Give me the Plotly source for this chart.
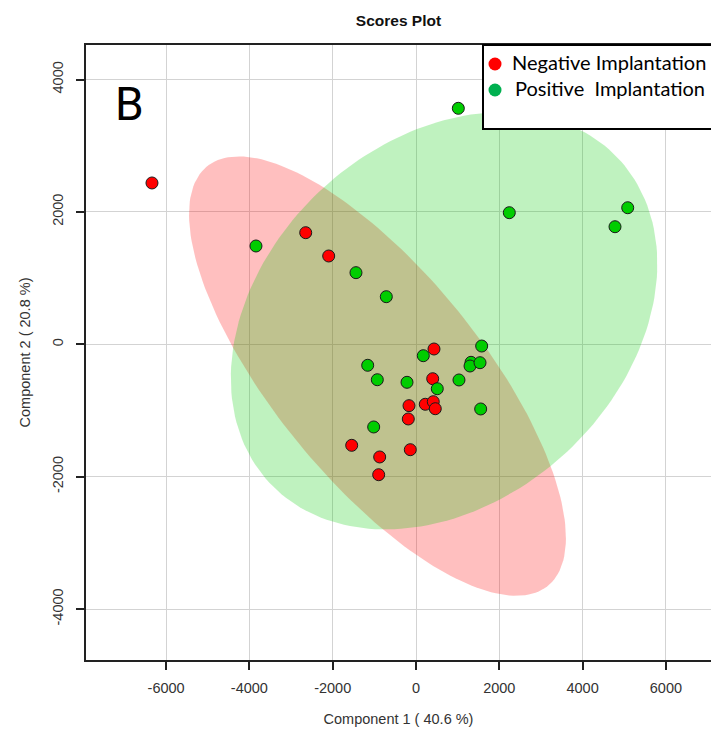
import numpy as np
import plotly.graph_objects as go

# ---- data ----
neg_x = [-6339, -2648, -2096, 432, 401, -168, 223, 415, 463, -185, -1544, -137, -872, -896]
neg_y = [2437, 1686, 1334, -71, -520, -927, -906, -867, -973, -1128, -1526, -1592, -1702, -1970]
pos_x = [175, 1577, -1160, -929, -216, 511, 1032, 1321, 1297, 1537, 1553, -1016,
         -3842, -1441, -713, 1016, 2240, 5083, 4778]
pos_y = [-172, -26, -317, -535, -574, -671, -539, -272, -328, -278, -977, -1249,
         1485, 1082, 719, 3565, 1988, 2063, 1776]
x_ticks = [-6000, -4000, -2000, 0, 2000, 4000, 6000]
y_ticks = [-4000, -2000, 0, 2000, 4000]
group_names = ["Negative Implantation", "Positive  Implantation"]


def conf_ellipse(x, y, level_t=np.sqrt(5.991464547), n=200):
    pts = np.vstack([x, y]).astype(float)
    mu = pts.mean(axis=1)
    cov = np.cov(pts)
    vals, vecs = np.linalg.eigh(cov)
    th = np.linspace(0, 2 * np.pi, n)
    circ = np.vstack([np.cos(th), np.sin(th)])
    e = vecs @ (np.sqrt(vals)[:, None] * circ) * level_t + mu[:, None]
    return e[0], e[1]


L, R, T, B = 86, 0, 45, 71
W, H = 711, 731
pw, ph = W - L - R, H - T - B
x_per = 41.65 / 1000.0
y_per = 66.2 / 1000.0
x_range = [(L - 416) / x_per, (W - R - 416) / x_per]
y_range = [(344.3 - (H - B)) / y_per, (344.3 - T) / y_per]

fig = go.Figure()

ex, ey = conf_ellipse(neg_x, neg_y)
fig.add_trace(go.Scatter(x=ex, y=ey, mode="lines", fill="toself",
                         fillcolor="rgba(255,0,0,0.25)", line=dict(width=0),
                         hoverinfo="skip", showlegend=False))
ex, ey = conf_ellipse(pos_x, pos_y)
fig.add_trace(go.Scatter(x=ex, y=ey, mode="lines", fill="toself",
                         fillcolor="rgba(0,205,0,0.25)", line=dict(width=0),
                         hoverinfo="skip", showlegend=False))

fig.add_trace(go.Scatter(x=neg_x, y=neg_y, mode="markers", showlegend=False,
                         marker=dict(size=12, color="#FF0000",
                                     line=dict(color="#1a1a1a", width=1))))
fig.add_trace(go.Scatter(x=pos_x, y=pos_y, mode="markers", showlegend=False,
                         marker=dict(size=12, color="#00CD00",
                                     line=dict(color="#1a1a1a", width=1))))

axis_font = dict(family="Liberation Sans, Arial, sans-serif", size=14.5, color="#333333")

fig.update_xaxes(range=x_range, tickvals=x_ticks, ticktext=[str(v) for v in x_ticks],
                 showgrid=True, gridcolor="#D3D3D3", gridwidth=1, zeroline=False,
                 showline=True, linecolor="#222222", linewidth=1.5, mirror=True,
                 ticks="outside", ticklen=8, tickcolor="#222222", tickwidth=1.5,
                 tickfont=axis_font, ticklabelstandoff=6,
                 title=dict(text="Component 1 ( 40.6 %)", font=axis_font, standoff=19))
fig.update_yaxes(range=y_range, tickvals=y_ticks, ticktext=[str(v) for v in y_ticks],
                 showgrid=True, gridcolor="#D3D3D3", gridwidth=1, zeroline=False,
                 showline=True, linecolor="#222222", linewidth=1.5, mirror=False,
                 ticks="outside", ticklen=8, tickcolor="#222222", tickwidth=1.5,
                 tickangle=-90, tickfont=axis_font, ticklabelstandoff=7,
                 title=dict(text="Component 2 ( 20.8 %)", font=axis_font, standoff=16))


def px_x(p):
    return (p - L) / pw


def px_y(p):
    return (H - B - p) / ph


shapes = [
    dict(type="rect", xref="paper", yref="paper", x0=px_x(483), x1=px_x(720),
         y0=px_y(129), y1=px_y(45), line=dict(color="black", width=2),
         fillcolor="white", layer="above"),
    dict(type="circle", xref="paper", yref="paper", x0=px_x(488.5), x1=px_x(501.5),
         y0=px_y(70.5), y1=px_y(57.5), line=dict(width=0), fillcolor="#FF0000"),
    dict(type="circle", xref="paper", yref="paper", x0=px_x(488.5), x1=px_x(501.5),
         y0=px_y(96.5), y1=px_y(83.5), line=dict(width=0), fillcolor="#00B050"),
]
leg_font = dict(family="Lato, Carlito, sans-serif", size=20, color="black")
annotations = [
    dict(text=group_names[0], xref="paper", yref="paper", x=px_x(510), y=px_y(62),
         xanchor="left", yanchor="middle", showarrow=False, font=leg_font),
    dict(text=group_names[1], xref="paper", yref="paper", x=px_x(513), y=px_y(88),
         xanchor="left", yanchor="middle", showarrow=False, font=leg_font),
    dict(text="B", xref="paper", yref="paper", x=px_x(129), y=px_y(104),
         xanchor="center", yanchor="middle", showarrow=False,
         font=dict(family="Roboto, sans-serif", size=46, color="black", weight="normal")),
]

fig.update_layout(
    width=W, height=H,
    margin=dict(l=L, r=R, t=T, b=B),
    paper_bgcolor="white", plot_bgcolor="white",
    title=dict(text="<b>Scores Plot</b>", x=(L + pw / 2) / W, xanchor="center",
               y=1 - 21 / H, yanchor="middle",
               font=dict(family="Liberation Sans, Arial, sans-serif", size=15.5, color="#111111")),
    shapes=shapes, annotations=annotations, showlegend=False,
)

fig.write_html("out.html", config={"displayModeBar": False},
               post_script="document.body.style.margin='0px';document.body.style.padding='0px';")
